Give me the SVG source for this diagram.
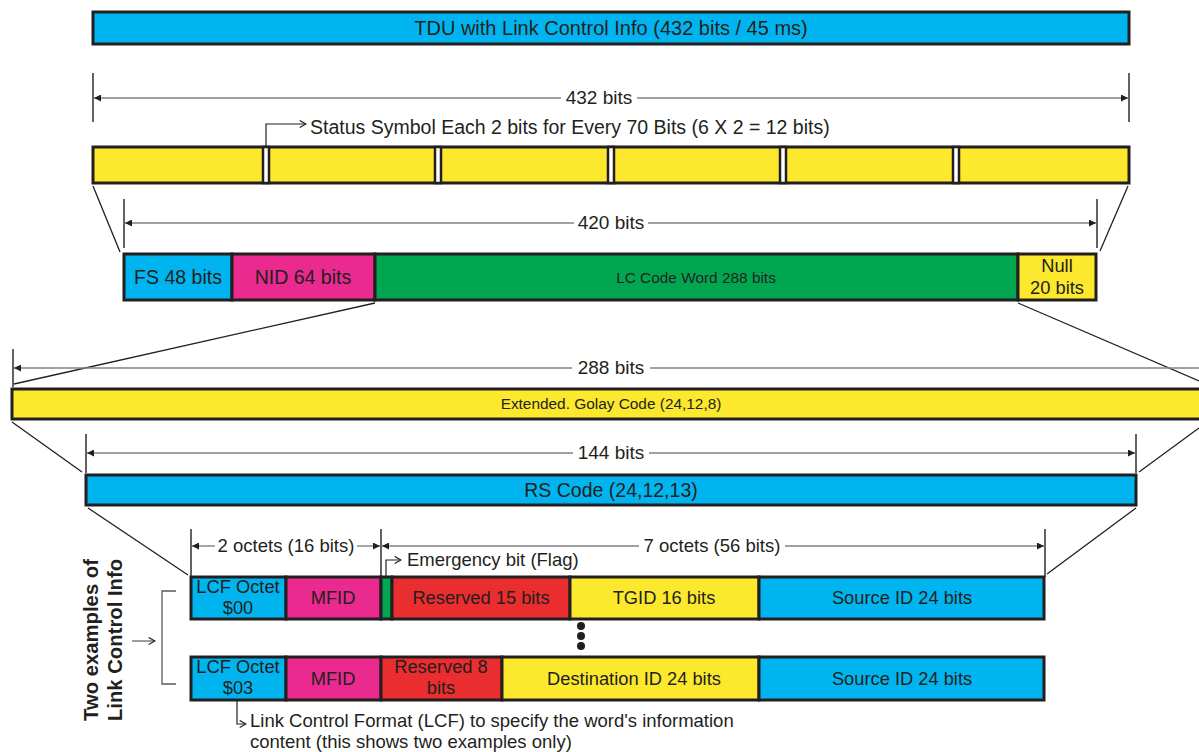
<svg xmlns="http://www.w3.org/2000/svg" width="1199" height="752" viewBox="0 0 1199 752">
<style>
text{font-family:"Liberation Sans",Arial,sans-serif;fill:#231f20;}
.t20{font-size:20px;text-anchor:middle;}
.t19{font-size:19.5px;text-anchor:middle;}
.d19{font-size:19px;text-anchor:middle;}
.t17{font-size:18.3px;text-anchor:middle;}
.t13{font-size:15.4px;text-anchor:middle;}
.l17{font-size:18.5px;}
.st{font-size:19.5px;}
.bold{font-size:20.3px;font-weight:bold;text-anchor:middle;}
.box{stroke:#231f20;stroke-width:3;}
.cy{fill:#00b5ef;}
.mg{fill:#ea2a8f;}
.gr{fill:#00a650;}
.ye{fill:#fce82c;}
.rd{fill:#ea2d2e;}
.gap{fill:#ffffff;stroke:#231f20;stroke-width:2.5;}
.dim{stroke:#808285;stroke-width:1.4;fill:none;marker-end:url(#ah);}
.tick{stroke:#231f20;stroke-width:1.4;}
.diag{stroke:#231f20;stroke-width:1.3;fill:none;}
.call{stroke:#231f20;stroke-width:1.2;fill:none;marker-end:url(#oa);}
.brk{stroke:#58595b;stroke-width:1.3;fill:none;}
</style>
<defs>
<marker id="ah" viewBox="0 0 10 10" refX="10" refY="5" markerWidth="10" markerHeight="7" markerUnits="userSpaceOnUse" orient="auto"><path d="M0,0 L10,5 L0,10 z" fill="#231f20"/></marker>
<marker id="oa" viewBox="0 0 10 10" refX="9" refY="5" markerWidth="9" markerHeight="9" markerUnits="userSpaceOnUse" orient="auto"><path d="M2,1 L9,5 L2,9" fill="none" stroke="#231f20" stroke-width="1.3"/></marker>
</defs>

<g id="tdu">
<rect class="box cy" x="93" y="12" width="1036" height="32"/>
<text class="t20" x="611" y="35">TDU with Link Control Info (432 bits / 45 ms)</text>
</g>

<g id="status-bar">
<rect class="box ye" x="93" y="147" width="1036" height="36"/>
<rect class="gap" x="263" y="147" width="6" height="36"/>
<rect class="gap" x="435" y="147" width="6" height="36"/>
<rect class="gap" x="608" y="147" width="6" height="36"/>
<rect class="gap" x="780" y="147" width="6" height="36"/>
<rect class="gap" x="953" y="147" width="6" height="36"/>
</g>

<g id="status-label">
<text class="st" x="310" y="134">Status Symbol Each 2 bits for Every 70 Bits (6 X 2 = 12 bits)</text>
</g>

<g id="frame">
<rect class="box cy" x="124" y="254" width="108" height="46"/>
<rect class="box mg" x="232" y="254" width="143" height="46"/>
<rect class="box gr" x="375" y="254" width="643" height="46"/>
<rect class="box ye" x="1018" y="254" width="78" height="46"/>
<text class="t19" x="178" y="284">FS 48 bits</text>
<text class="t19" x="303" y="284">NID 64 bits</text>
<text class="t13" x="696" y="283">LC Code Word 288 bits</text>
<text class="t17" x="1057" y="272">Null</text>
<text class="t17" x="1057" y="294">20 bits</text>
</g>

<g id="golay">
<rect class="box ye" x="12" y="389" width="1200" height="30"/>
<text class="t13" x="611" y="409">Extended. Golay Code (24,12,8)</text>
</g>

<g id="rs">
<rect class="box cy" x="86" y="475" width="1050" height="30"/>
<text class="t19" x="611" y="497">RS Code (24,12,13)</text>
</g>

<g id="row1">
<rect class="box cy" x="191" y="577" width="95" height="42"/>
<rect class="box mg" x="286" y="577" width="95" height="42"/>
<rect class="box gr" x="381" y="577" width="11" height="42"/>
<rect class="box rd" x="392" y="577" width="178" height="42"/>
<rect class="box ye" x="570" y="577" width="189" height="42"/>
<rect class="box cy" x="759" y="577" width="285" height="42"/>
<text class="t17" x="238" y="593">LCF Octet</text>
<text class="t17" x="238" y="614">$00</text>
<text class="t17" x="333" y="604">MFID</text>
<text class="t17" x="481" y="604">Reserved 15 bits</text>
<text class="t17" x="664" y="604">TGID 16 bits</text>
<text class="t17" x="902" y="604">Source ID 24 bits</text>
</g>

<g id="dots">
<circle cx="581" cy="626" r="4" fill="#231f20"/>
<circle cx="581" cy="636" r="4" fill="#231f20"/>
<circle cx="581" cy="646" r="4" fill="#231f20"/>
</g>

<g id="row2">
<rect class="box cy" x="191" y="657" width="95" height="43"/>
<rect class="box mg" x="286" y="657" width="95" height="43"/>
<rect class="box rd" x="381" y="657" width="121" height="43"/>
<rect class="box ye" x="502" y="657" width="257" height="43"/>
<rect class="box cy" x="759" y="657" width="285" height="43"/>
<text class="t17" x="238" y="673">LCF Octet</text>
<text class="t17" x="238" y="694">$03</text>
<text class="t17" x="333" y="685">MFID</text>
<text class="t17" x="441" y="673">Reserved 8</text>
<text class="t17" x="441" y="694">bits</text>
<text class="t17" x="634" y="685">Destination ID 24 bits</text>
<text class="t17" x="902" y="685">Source ID 24 bits</text>
</g>

<g id="side-label">
<text class="bold" transform="translate(98,640) rotate(-90)">Two examples of</text>
<text class="bold" transform="translate(122,640) rotate(-90)">Link Control Info</text>
</g>

<g id="texts">
<text class="d19" x="599" y="104">432 bits</text>
<text class="d19" x="611" y="229">420 bits</text>
<text class="d19" x="611" y="374">288 bits</text>
<text class="d19" x="611" y="459">144 bits</text>
<text class="l17" x="286" y="552" text-anchor="middle">2 octets (16 bits)</text>
<text class="l17" x="712" y="552" text-anchor="middle">7 octets (56 bits)</text>
<text class="l17" x="407" y="566">Emergency bit (Flag)</text>
<text class="l17" x="250" y="727">Link Control Format (LCF) to specify the word's information</text>
<text class="l17" x="250" y="748">content (this shows two examples only)</text>
</g>

<g id="connectors">
<line class="tick" x1="93" y1="73" x2="93" y2="122"/>
<line class="tick" x1="1129" y1="73" x2="1129" y2="122"/>
<line class="dim" x1="561" y1="98" x2="94" y2="98"/>
<line class="dim" x1="637" y1="98" x2="1128" y2="98"/>
<path class="call" d="M266,147 V124 H306"/>
<line class="diag" x1="93" y1="186" x2="120" y2="252"/>
<line class="diag" x1="1128" y1="186" x2="1100" y2="251"/>
<line class="tick" x1="124" y1="199" x2="124" y2="248"/>
<line class="tick" x1="1097" y1="199" x2="1097" y2="248"/>
<line class="dim" x1="574" y1="223" x2="125" y2="223"/>
<line class="dim" x1="648" y1="223" x2="1096" y2="223"/>
<line class="diag" x1="375" y1="303" x2="14" y2="384"/>
<line class="diag" x1="1018" y1="303" x2="1199" y2="381"/>
<line class="tick" x1="13" y1="349" x2="13" y2="387"/>
<line class="dim" x1="572" y1="368" x2="14" y2="368"/>
<line class="dim" x1="650" y1="368" x2="1199" y2="368" style="marker-end:none"/>
<line class="diag" x1="12" y1="422" x2="82" y2="472"/>
<line class="diag" x1="1199" y1="428" x2="1139" y2="472"/>
<line class="tick" x1="86" y1="434" x2="86" y2="473"/>
<line class="tick" x1="1136" y1="434" x2="1136" y2="473"/>
<line class="dim" x1="573" y1="453" x2="87" y2="453"/>
<line class="dim" x1="649" y1="453" x2="1135" y2="453"/>
<line class="diag" x1="88" y1="508" x2="188" y2="575"/>
<line class="diag" x1="1136" y1="508" x2="1047" y2="574"/>
<line class="tick" x1="191" y1="529" x2="191" y2="577"/>
<line class="tick" x1="381" y1="529" x2="381" y2="577"/>
<line class="tick" x1="1045" y1="529" x2="1045" y2="577"/>
<line class="dim" x1="215" y1="546" x2="192" y2="546"/>
<line class="dim" x1="357" y1="546" x2="380" y2="546"/>
<line class="dim" x1="639" y1="546" x2="382" y2="546"/>
<line class="dim" x1="785" y1="546" x2="1044" y2="546"/>
<path class="call" d="M386,577 V560 H401"/>
<path class="brk" d="M176,591 H162 V684 H176"/>
<path class="call" d="M132,641 H155" style="stroke:#58595b"/>
<path class="call" d="M237,701 V724 H246"/>
</g>
</svg>
